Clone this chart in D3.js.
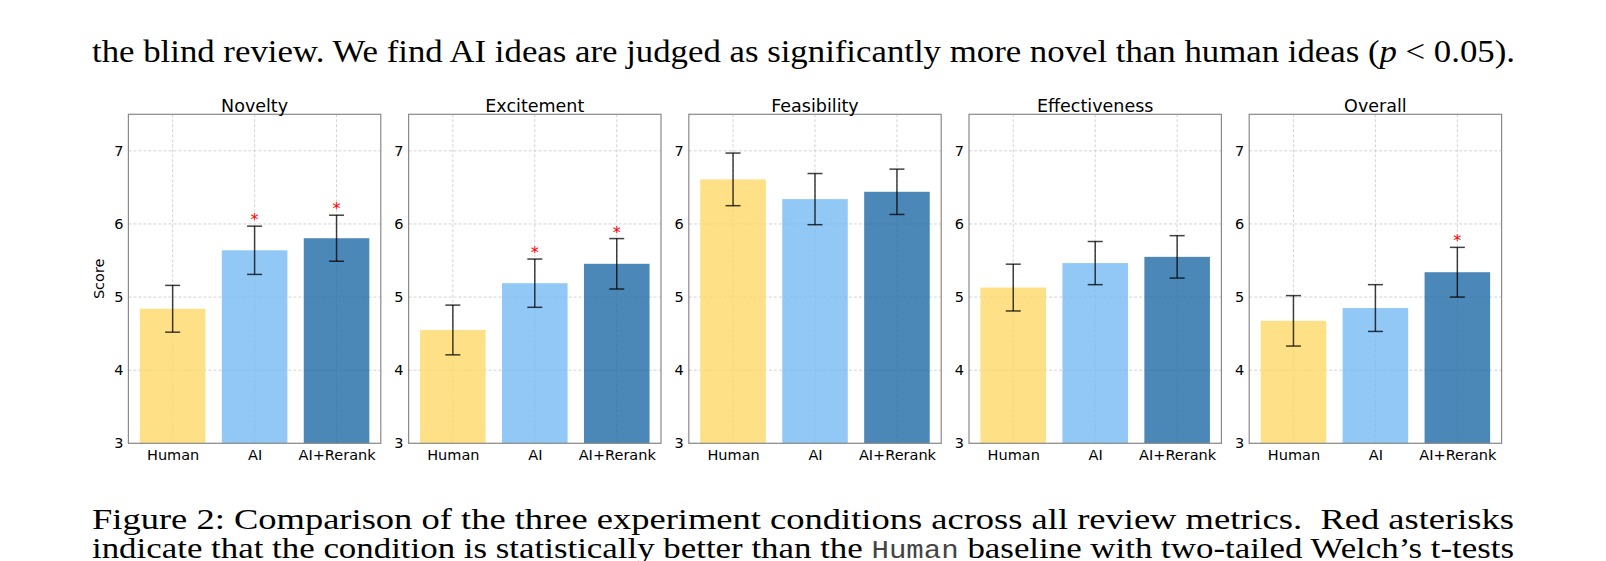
<!DOCTYPE html>
<html>
<head>
<meta charset="utf-8">
<script src="https://cdn.jsdelivr.net/npm/d3@7"></script>
<style>
  body { margin: 0; background: #fff; }
  text { white-space: pre; }
</style>
</head>
<body>
<div id="graph"></div>
<script>
// the data
let metrics = ['Novelty', 'Excitement', 'Feasibility', 'Effectiveness', 'Overall'];
let conditions = ['Human', 'AI', 'AI+Rerank'];
let humanMeans = [4.84, 4.55, 6.61, 5.13, 4.675];
let aiMeans = [5.64, 5.19, 6.34, 5.465, 4.85];
let rerankMeans = [5.805, 5.455, 6.44, 5.55, 5.34];
let humanErr = [0.32, 0.34, 0.36, 0.32, 0.345];
let aiErr = [0.33, 0.33, 0.35, 0.295, 0.32];
let rerankErr = [0.315, 0.345, 0.31, 0.29, 0.34];
let aiSignificant = [true, true, false, false, false];
let rerankSignificant = [true, true, false, false, true];
let yTicks = [3, 4, 5, 6, 7];
let barColors = ['#fed868', '#77baf4', '#1e6aa6'];

let pageWidth = 1606;
let pageHeight = 561;

let svg = d3.select('#graph').append('svg')
    .attr('width', pageWidth)
    .attr('height', pageHeight)
    .style('display', 'block');

svg.append('rect')
    .attr('width', pageWidth)
    .attr('height', pageHeight)
    .attr('fill', '#fff');

// panel geometry
let panelLeft = 128.4;
let panelStep = 280.2;
let panelWidth = 252.4;
let panelTop = 114.3;
let panelBottom = 443.3;

let y = d3.scaleLinear().domain([3, 7.5]).range([panelBottom, panelTop]);

metrics.forEach(function(metric, m) {
  let x = d3.scaleLinear().domain([-0.54, 2.54]).range([0, panelWidth]);
  let g = svg.append('g')
      .attr('transform', 'translate(' + (panelLeft + m * panelStep) + ',0)');

  let rows = [
    {cond: 0, mean: humanMeans[m], err: humanErr[m], sig: false},
    {cond: 1, mean: aiMeans[m], err: aiErr[m], sig: aiSignificant[m]},
    {cond: 2, mean: rerankMeans[m], err: rerankErr[m], sig: rerankSignificant[m]}
  ];

  // grid lines
  g.selectAll('.ygrid').data(yTicks).enter().append('line')
      .attr('x1', 0).attr('x2', panelWidth)
      .attr('y1', d => y(d)).attr('y2', d => y(d))
      .attr('stroke', '#c8c8c8').attr('stroke-width', 0.8)
      .attr('stroke-dasharray', '3,2');
  g.selectAll('.xgrid').data([0, 1, 2]).enter().append('line')
      .attr('x1', d => x(d)).attr('x2', d => x(d))
      .attr('y1', panelTop).attr('y2', panelBottom)
      .attr('stroke', '#c8c8c8').attr('stroke-width', 0.8)
      .attr('stroke-dasharray', '3,2');

  // bars
  g.selectAll('.bar').data(rows).enter().append('rect')
      .attr('x', d => x(d.cond - 0.4))
      .attr('width', d => x(d.cond + 0.4) - x(d.cond - 0.4))
      .attr('y', d => y(d.mean))
      .attr('height', d => y(3) - y(d.mean))
      .attr('fill', d => barColors[d.cond])
      .attr('fill-opacity', 0.8);

  // error bars
  let eb = g.selectAll('.err').data(rows).enter().append('g')
      .attr('stroke', '#000').attr('stroke-opacity', 0.75).attr('stroke-width', 1.5);
  eb.append('line')
      .attr('x1', d => x(d.cond)).attr('x2', d => x(d.cond))
      .attr('y1', d => y(d.mean + d.err)).attr('y2', d => y(d.mean - d.err));
  eb.append('line')
      .attr('x1', d => x(d.cond) - 7.5).attr('x2', d => x(d.cond) + 7.5)
      .attr('y1', d => y(d.mean + d.err)).attr('y2', d => y(d.mean + d.err));
  eb.append('line')
      .attr('x1', d => x(d.cond) - 7.5).attr('x2', d => x(d.cond) + 7.5)
      .attr('y1', d => y(d.mean - d.err)).attr('y2', d => y(d.mean - d.err));

  // red asterisks
  g.selectAll('.star').data(rows.filter(d => d.sig)).enter().append('text')
      .attr('x', d => x(d.cond))
      .attr('y', d => y(d.mean + d.err) - 1)
      .attr('text-anchor', 'middle')
      .attr('font-family', 'DejaVu Sans')
      .attr('font-size', '16px')
      .attr('fill', '#ff0000')
      .text('*');

  // frame
  g.append('rect')
      .attr('x', 0).attr('y', panelTop)
      .attr('width', panelWidth).attr('height', panelBottom - panelTop)
      .attr('fill', 'none').attr('stroke', '#8a8a8a').attr('stroke-width', 1.2);

  // Add the Y Axis
  let yAxis = g.append('g')
      .call(d3.axisLeft(y).tickValues(yTicks).tickFormat(d3.format('d')).tickSize(0).tickPadding(5));
  yAxis.select('.domain').remove();
  yAxis.selectAll('text')
      .attr('font-family', 'DejaVu Sans').attr('font-size', '14.5px').attr('fill', '#000');

  // Add the X Axis
  let xAxis = g.append('g')
      .attr('transform', 'translate(0,' + panelBottom + ')')
      .call(d3.axisBottom(x).tickValues([0, 1, 2]).tickFormat(i => conditions[i]).tickSize(0).tickPadding(6));
  xAxis.select('.domain').remove();
  xAxis.selectAll('text')
      .attr('font-family', 'DejaVu Sans').attr('font-size', '14.5px').attr('fill', '#000');

  // title
  g.append('text')
      .attr('x', panelWidth / 2).attr('y', 111.5)
      .attr('text-anchor', 'middle')
      .attr('font-family', 'DejaVu Sans').attr('font-size', '17.5px')
      .text(metric);

  if (m == 0) {
    g.append('text')
        .attr('transform', 'translate(-24,' + ((panelTop + panelBottom) / 2) + ') rotate(-90)')
        .attr('text-anchor', 'middle')
        .attr('font-family', 'DejaVu Sans').attr('font-size', '14.5px')
        .text('Score');
  }
});

// surrounding paper text
let serif = "'Liberation Serif', 'Times New Roman', serif";

let topLine = svg.append('text')
    .attr('x', 92).attr('y', 62)
    .attr('font-family', serif).attr('font-size', '31px')
    .attr('textLength', 1423).attr('lengthAdjust', 'spacingAndGlyphs');
topLine.append('tspan').text('the blind review. We find AI ideas are judged as significantly more novel than human ideas (');
topLine.append('tspan').attr('font-style', 'italic').text('p');
topLine.append('tspan').text(' < 0.05).');

svg.append('text')
    .attr('x', 92).attr('y', 529)
    .attr('font-family', serif).attr('font-size', '30px')
    .attr('textLength', 1422).attr('lengthAdjust', 'spacingAndGlyphs')
    .text('Figure 2: Comparison of the three experiment conditions across all review metrics.  Red asterisks');

let capLine = svg.append('text')
    .attr('x', 92).attr('y', 558)
    .attr('font-family', serif).attr('font-size', '30px')
    .attr('textLength', 1422).attr('lengthAdjust', 'spacingAndGlyphs');
capLine.append('tspan').text('indicate that the condition is statistically better than the ');
capLine.append('tspan').attr('font-family', 'Liberation Mono').attr('font-size', '25px').attr('fill', '#444').text('Human');
capLine.append('tspan').text(' baseline with two-tailed Welch\u2019s t-tests');
</script>
</body>
</html>
